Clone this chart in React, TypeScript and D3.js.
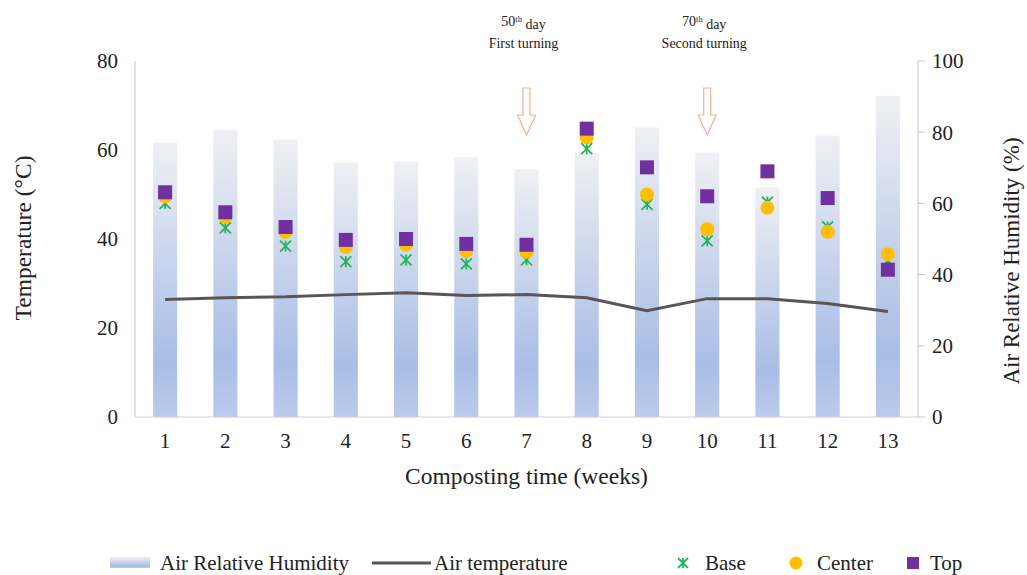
import React from 'react'
import * as d3 from 'd3'

const weeks = ['1', '2', '3', '4', '5', '6', '7', '8', '9', '10', '11', '12', '13']
const humidity = [77.1, 80.7, 77.9, 71.5, 71.8, 72.9, 69.6, 74.3, 81.3, 74.3, 64.5, 79, 90.2]
const airTemp = [26.4, 26.8, 27, 27.5, 27.9, 27.3, 27.5, 26.8, 23.9, 26.6, 26.6, 25.5, 23.7]
const baseTemp = [48, 42.5, 38.4, 34.9, 35.3, 34.4, 35.3, 60.3, 47.8, 39.6, 48.3, 42.7, 35.1]
const centerTemp = [49.6, 45, 41.6, 38.2, 38.7, 37.3, 37.1, 62.8, 50, 42.2, 47, 41.6, 36.6]
const topTemp = [50.5, 46, 42.7, 39.8, 40, 38.9, 38.7, 64.8, 56.1, 49.6, 55.2, 49.2, 33.1]
const tempTicks = [0, 20, 40, 60, 80]
const humTicks = [0, 20, 40, 60, 80, 100]
const turnings = [
  { week: '7', day: '50', label: 'First turning' },
  { week: '10', day: '70', label: 'Second turning' },
]

const W = 1027
const H = 575
const margin = { left: 135, right: 109, top: 61, bottom: 156 }
const FONT = '"Liberation Serif", "Times New Roman", serif'

export default function App() {
  const x = d3.scaleBand().domain(weeks).range([margin.left, W - margin.right]).paddingInner(0.6).paddingOuter(0.3)
  const yT = d3.scaleLinear().domain([0, 80]).range([H - margin.bottom - 2, margin.top])
  const yH = d3.scaleLinear().domain([0, 100]).range([H - margin.bottom - 2, margin.top])
  const cx = (w: string) => (x(w) ?? 0) + x.bandwidth() / 2
  const y0 = yT(0)

  const line = d3
    .line<number>()
    .x((_, i) => cx(weeks[i]))
    .y((d) => yT(d))

  const star = (px: number, py: number, s: number, key: string | number) => (
    <g key={key} stroke="#22b35a" strokeWidth={1.8}>
      <line x1={px - s} y1={py - s} x2={px + s} y2={py + s} />
      <line x1={px - s} y1={py + s} x2={px + s} y2={py - s} />
      <line x1={px} y1={py - s} x2={px} y2={py + s} />
    </g>
  )

  const arrow = (px: number, top: number, bottom: number) => {
    const hw = 3.5
    const hh = 9
    const headY = bottom - 20
    const pts = [
      [px - hw, top], [px + hw, top], [px + hw, headY], [px + hh, headY],
      [px, bottom], [px - hh, headY], [px - hw, headY],
    ]
    return <polygon points={pts.map((p) => p.join(',')).join(' ')} fill="white" stroke="#f5b090" strokeWidth={1.2} />
  }

  return (
    <svg width={W} height={H} style={{ position: 'absolute', left: 0, top: 0, background: 'white' }} fontFamily={FONT}>
      <defs>
        <linearGradient id="humGrad" x1="0" y1="0" x2="0" y2="1">
          <stop offset="0" stopColor="#eff0f3" />
          <stop offset="0.8" stopColor="#a9bde6" />
          <stop offset="1" stopColor="#bccbec" />
        </linearGradient>
      </defs>

      {/* humidity bars */}
      {weeks.map((w, i) => (
        <rect key={w} x={x(w)} y={yH(humidity[i])} width={x.bandwidth()} height={y0 - yH(humidity[i])} fill="url(#humGrad)" />
      ))}

      {/* axes */}
      <line x1={margin.left} x2={margin.left} y1={margin.top} y2={y0} stroke="#cfcfcf" strokeWidth={1.2} />
      <line x1={W - margin.right} x2={W - margin.right} y1={margin.top} y2={y0} stroke="#cfcfcf" strokeWidth={1.2} />
      <line x1={margin.left} x2={W - margin.right} y1={y0} y2={y0} stroke="#cfcfcf" strokeWidth={1.2} />
      {humTicks.map((t) => (
        <g key={t}>
          <line x1={W - margin.right} x2={W - margin.right + 7} y1={yH(t)} y2={yH(t)} stroke="#cfcfcf" strokeWidth={1.2} />
          <text x={W - margin.right + 14} y={yH(t)} dy="0.35em" fontSize={21} fill="#222">{t}</text>
        </g>
      ))}
      {tempTicks.map((t) => (
        <text key={t} x={margin.left - 17} y={yT(t)} dy="0.35em" textAnchor="end" fontSize={21} fill="#222">{t}</text>
      ))}
      {weeks.map((w) => (
        <text key={w} x={cx(w)} y={y0 + 24} dy="0.35em" textAnchor="middle" fontSize={21} fill="#222">{w}</text>
      ))}

      {/* axis titles */}
      <text x={(margin.left + W - margin.right) / 2} y={476} dy="0.35em" textAnchor="middle" fontSize={23.5} fill="#222">Composting time (weeks)</text>
      <text transform={`translate(23,238) rotate(-90)`} dy="0.35em" textAnchor="middle" fontSize={23.5} fill="#222">Temperature (°C)</text>
      <text transform={`translate(1011,261) rotate(-90)`} dy="0.35em" textAnchor="middle" fontSize={23} fill="#222">Air Relative Humidity (%)</text>

      {/* air temperature line */}
      <path d={line(airTemp) ?? ''} fill="none" stroke="#5a5557" strokeWidth={3} />

      {/* markers */}
      {baseTemp.map((v, i) => star(cx(weeks[i]), yT(v), 5.5, i))}
      {centerTemp.map((v, i) => (
        <circle key={i} cx={cx(weeks[i])} cy={yT(v)} r={7} fill="#ffbf00" />
      ))}
      {topTemp.map((v, i) => (
        <rect key={i} x={cx(weeks[i]) - 7} y={yT(v) - 7} width={14} height={14} fill="#7030a0" />
      ))}

      {/* turning annotations */}
      {turnings.map((t) => (
        <g key={t.week}>
          {arrow(cx(t.week), 88, 135)}
          <text x={cx(t.week) - 3} y={21} dy="0.35em" textAnchor="middle" fontSize={14} fill="#222">
            {t.day}
            <tspan fontSize={8.5} dy="-0.5em">th</tspan>
            <tspan dy="0.5em"> day</tspan>
          </text>
          <text x={cx(t.week) - 3} y={43} dy="0.35em" textAnchor="middle" fontSize={14} fill="#222">{t.label}</text>
        </g>
      ))}

      {/* legend */}
      <g fontSize={21} fill="#222">
        <rect x={110} y={557} width={40} height={11} fill="url(#humGrad)" />
        <text x={160} y={563} dy="0.35em">Air Relative Humidity</text>
        <line x1={372} x2={431} y1={563} y2={563} stroke="#5a5557" strokeWidth={3} />
        <text x={434} y={563} dy="0.35em">Air temperature</text>
        {star(683, 563, 5, 'lg')}
        <text x={705} y={563} dy="0.35em">Base</text>
        <circle cx={796} cy={563} r={6.5} fill="#ffbf00" />
        <text x={817} y={563} dy="0.35em">Center</text>
        <rect x={907} y={557} width={12} height={12} fill="#7030a0" />
        <text x={930} y={563} dy="0.35em">Top</text>
      </g>
    </svg>
  )
}
